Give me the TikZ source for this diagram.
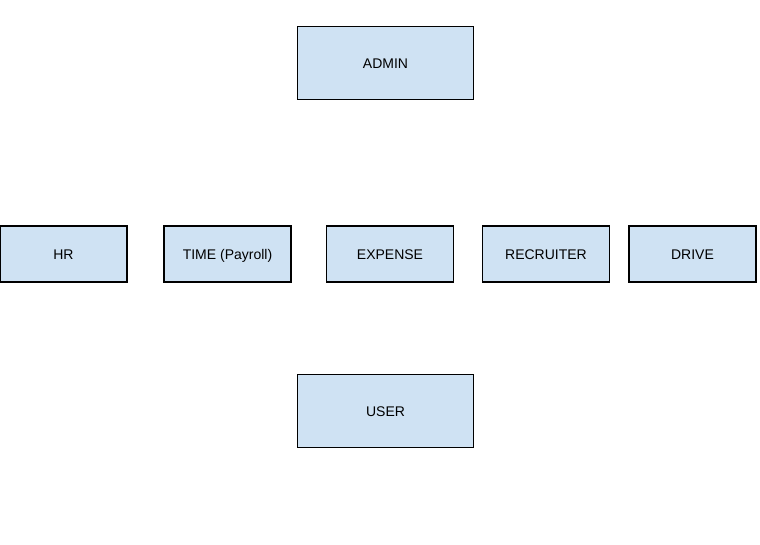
\documentclass[tikz,border=0pt]{standalone}
\usepackage{fontspec}
\setmainfont{Liberation Sans}
\usepackage{tikz}
\definecolor{boxblue}{HTML}{CFE2F3}

\begin{document}
\begin{tikzpicture}[x=0.75pt, y=-0.75pt, every node/.style={font=\fontsize{10.5}{12}\selectfont},
	modbox/.style={draw=black, fill=boxblue, line width=1.1pt, minimum width=95pt, minimum height=42pt, inner sep=0pt, text height=7.5pt, text depth=0pt},
	rolebox/.style={modbox, minimum width=132pt, minimum height=55pt}]
					\useasboundingbox (0,0) rectangle (760,544);
					
					% top and bottom roles
					\node[rolebox] (admin) at (385.5, 63) {ADMIN};
					\node[rolebox] (user) at (385.5, 411) {USER};
					
					% modules in the middle row
					\foreach \xpos/\name/\txt in {63.5/hr/HR, 227.5/time/TIME (Payroll), 390/expense/EXPENSE, 546/recruiter/RECRUITER, 692.5/drive/DRIVE} {
						\node[modbox] (\name) at (\xpos, 254) {\txt};
					}
				\end{tikzpicture}
\end{document}
